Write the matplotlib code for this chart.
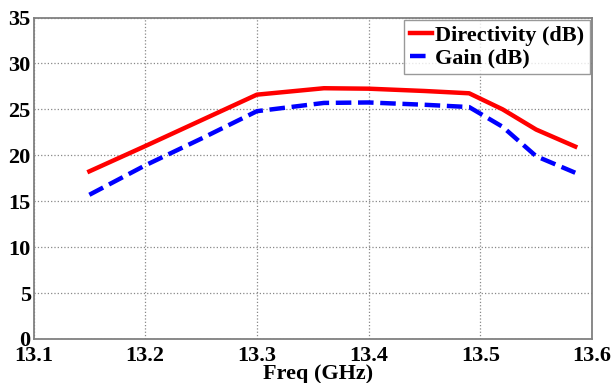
import matplotlib
matplotlib.use("Agg")
import matplotlib.pyplot as plt

# frequencies (GHz) and values
freq = [13.15, 13.2, 13.25, 13.3, 13.36, 13.4, 13.45, 13.49, 13.52, 13.55, 13.585]
directivity = [18.25, 21.0, 23.8, 26.6, 27.3, 27.25, 27.0, 26.75, 25.0, 22.8, 20.95]
gain = [15.7, 18.9, 21.8, 24.8, 25.7, 25.75, 25.5, 25.25, 23.1, 19.9, 18.1]

xticks = [13.1, 13.2, 13.3, 13.4, 13.5, 13.6]
yticks = [0, 5, 10, 15, 20, 25, 30, 35]

plt.rcParams['font.family'] = ['Liberation Serif', 'DejaVu Serif']
plt.rcParams['font.weight'] = 'bold'

W, H = 613, 383
fig = plt.figure(figsize=(W / 100, H / 100), dpi=100)
left, right, top, bottom = 33.5, 592, 17.5, 339
ax = fig.add_axes([left / W, 1 - bottom / H, (right - left) / W, (bottom - top) / H])

ax.plot(freq, directivity, color='red', lw=3.2, label='Directivity (dB)')
ax.plot(freq, gain, color='blue', lw=3.2, ls=(0, (3.5, 1.5)), label='Gain (dB)')

ax.set_xlim(13.1, 13.6)
ax.set_ylim(0, 35)
ax.set_xticks(xticks)
ax.set_yticks(yticks)
ax.set_xticklabels([str(x) for x in xticks], fontsize=16, fontweight='bold')
ax.set_yticklabels([str(y) for y in yticks], fontsize=16, fontweight='bold')
ax.tick_params(axis='x', length=0, pad=5)
ax.tick_params(axis='y', length=0, pad=2)
ax.grid(True, color='#888888', ls=':', lw=0.9)
for s in ax.spines.values():
    s.set_color('#808080')
    s.set_linewidth(1.3)

ax.set_xlabel('Freq (GHz)', fontsize=16, fontweight='bold')
ax.xaxis.set_label_coords(0.51, -0.078, transform=ax.transAxes)
ax.xaxis.label.set_va('top')

leg = ax.legend(loc='upper right', fontsize=16, frameon=True, fancybox=False,
                handlelength=1.0, handletextpad=0.15, borderpad=0.25,
                labelspacing=0.1, borderaxespad=0.0,
                bbox_to_anchor=(1 - 2 / (right - left), 1 - 2.5 / (bottom - top)))
leg.get_frame().set_edgecolor('#808080')
leg.get_frame().set_linewidth(1.0)
for t in leg.get_texts():
    t.set_fontweight('bold')

fig.savefig('out.png', dpi=100)
